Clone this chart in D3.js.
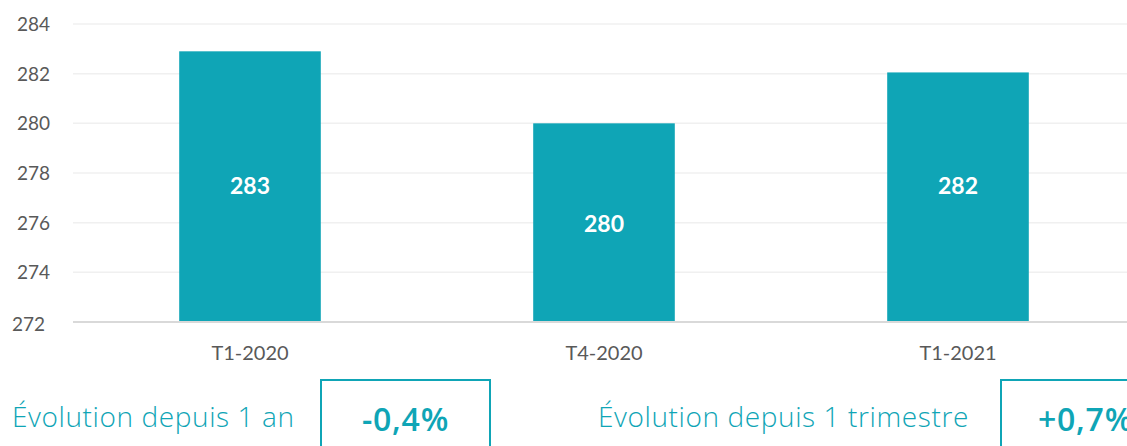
<!DOCTYPE html>
<html>
<head>
<meta charset="utf-8">
<style>
  body { margin: 0; background: #fff; }
  svg { display: block; }
</style>
</head>
<body>
<svg></svg>
<script src="https://cdnjs.cloudflare.com/ajax/libs/d3/7.8.5/d3.min.js"></script>
<script>
// data
var categories = ["T1-2020", "T4-2020", "T1-2021"];
var values = [282.9, 280.0, 282.05];
var valueLabels = ["283", "280", "282"];
var labelAt = [277.5, 276, 277.5];   // where the white labels sit, in axis units
var yTicks = [272, 274, 276, 278, 280, 282, 284];
var evoLabels = ["Évolution depuis 1 an", "Évolution depuis 1 trimestre"];
var evoValues = ["-0,4%", "+0,7%"];

var teal = "#0fa5b6";
var svg = d3.select("svg").attr("width", 1127).attr("height", 446);

var x = d3.scaleBand().domain(categories).range([73, 1135]).paddingInner(0.6).paddingOuter(0.3);
var y = d3.scaleLinear().domain([272, 284]).range([322, 24]);

// gridlines
svg.append("g").selectAll("line")
    .data(yTicks.slice(1))
    .enter().append("line")
    .attr("x1", 73).attr("x2", 1127)
    .attr("y1", function(d) { return y(d); })
    .attr("y2", function(d) { return y(d); })
    .style("stroke", "#f0f0f0").style("stroke-width", 1.5);

// y labels
svg.append("g").selectAll("text")
    .data(yTicks)
    .enter().append("text")
    .attr("x", function(d) { return d === 272 ? 45 : 50; })
    .attr("y", function(d) { return y(d) + (d === 272 ? 9 : 7); })
    .attr("text-anchor", "end")
    .style("font-family", "Lato, 'Open Sans', sans-serif")
    .style("font-size", "19px")
    .style("fill", "#595959")
    .text(function(d) { return d; });

// bars
svg.append("g").selectAll("rect")
    .data(values)
    .enter().append("rect")
    .attr("x", function(d, i) { return x(categories[i]); })
    .attr("width", x.bandwidth())
    .attr("y", function(d) { return y(d); })
    .attr("height", function(d) { return y(272) - y(d); })
    .style("fill", teal);

// baseline
svg.append("line")
    .attr("x1", 73).attr("x2", 1127)
    .attr("y1", y(272)).attr("y2", y(272))
    .style("stroke", "#d9d9d9").style("stroke-width", 2);

// value labels
svg.append("g").selectAll("text")
    .data(values)
    .enter().append("text")
    .attr("x", function(d, i) { return x(categories[i]) + x.bandwidth() / 2; })
    .attr("y", function(d, i) { return y(labelAt[i]) + 9; })
    .attr("text-anchor", "middle")
    .style("font-family", "Lato, 'Open Sans', sans-serif")
    .style("font-weight", "bold")
    .style("font-size", "23px")
    .style("fill", "#fff")
    .text(function(d, i) { return valueLabels[i]; });

// category labels
svg.append("g").selectAll("text")
    .data(categories)
    .enter().append("text")
    .attr("x", function(d) { return x(d) + x.bandwidth() / 2; })
    .attr("y", 360)
    .attr("text-anchor", "middle")
    .style("font-family", "Lato, 'Open Sans', sans-serif")
    .style("font-size", "20px")
    .style("fill", "#595959")
    .text(function(d) { return d; });

// evolution boxes
var evoX = [12, 598];
var boxX = [321, 1001];
var boxW = 169;
svg.append("g").selectAll("text")
    .data(evoLabels)
    .enter().append("text")
    .attr("x", function(d, i) { return evoX[i]; })
    .attr("y", 427)
    .style("font-family", "'Open Sans', sans-serif")
    .style("font-weight", 300)
    .style("font-size", "28px")
    .style("letter-spacing", "0.6px")
    .style("fill", teal)
    .text(function(d) { return d; });

svg.append("g").selectAll("rect")
    .data(evoValues)
    .enter().append("rect")
    .attr("x", function(d, i) { return boxX[i]; })
    .attr("y", 380)
    .attr("width", boxW)
    .attr("height", 80)
    .style("fill", "none")
    .style("stroke", teal)
    .style("stroke-width", 2);

svg.append("g").selectAll("text")
    .data(evoValues)
    .enter().append("text")
    .attr("x", function(d, i) { return boxX[i] + boxW / 2; })
    .attr("y", 431)
    .attr("text-anchor", "middle")
    .style("font-family", "'Open Sans', sans-serif")
    .style("font-weight", 600)
    .style("font-size", "32px")
    .style("letter-spacing", "0.8px")
    .style("fill", teal)
    .text(function(d) { return d; });
</script>
</body>
</html>
